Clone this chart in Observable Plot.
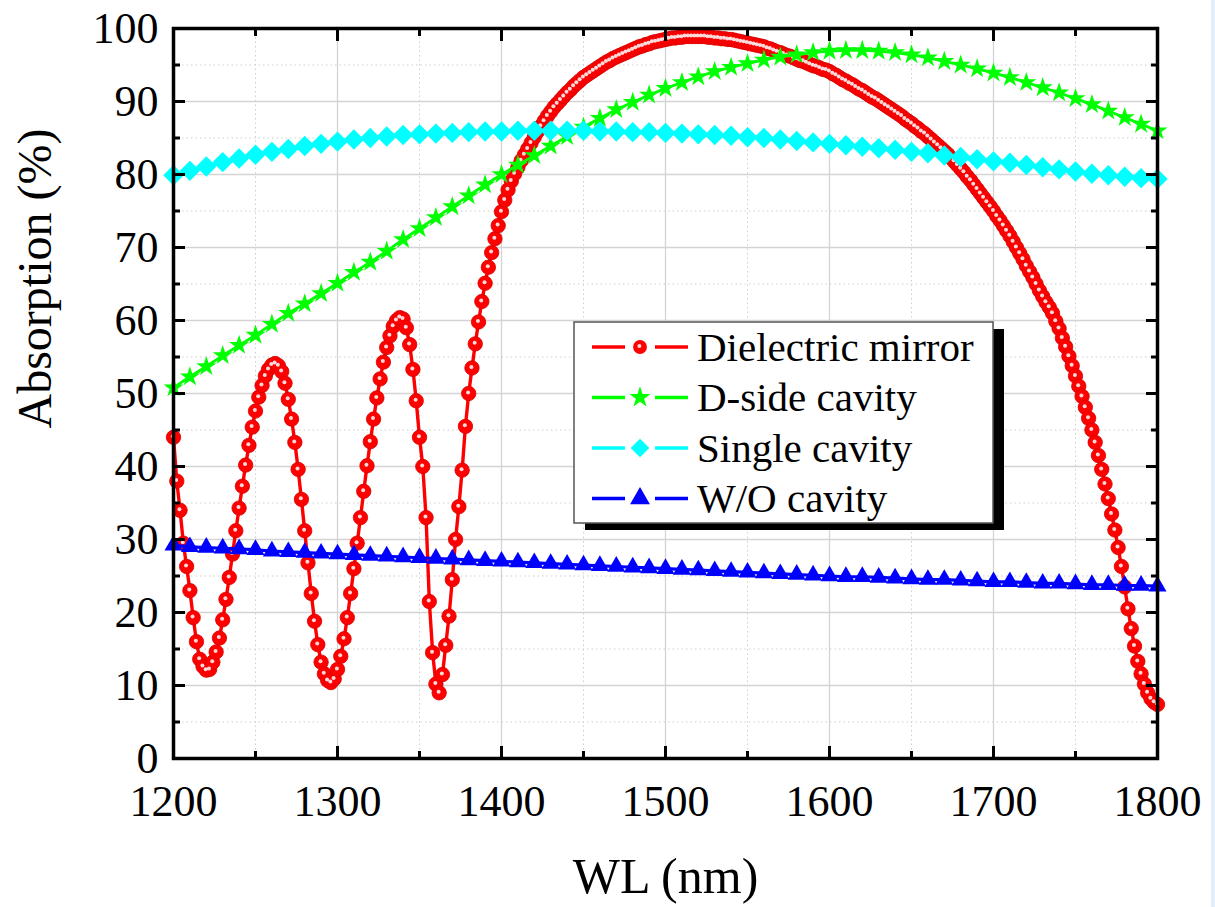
<!DOCTYPE html>
<html><head><meta charset="utf-8">
<script src="https://cdn.jsdelivr.net/npm/d3@7"></script>
<script src="https://cdn.jsdelivr.net/npm/@observablehq/plot@0.6"></script>
<style>
html,body{margin:0;padding:0;background:#fff;}
#chart{position:relative;width:1215px;height:907px;overflow:hidden;background:#fff;}
#strip{position:absolute;left:1211px;top:0;width:4px;height:907px;background:#e3eefa;}
</style></head><body><div id="chart"></div>
<script>
// ---- data ----
const seriesNames = ["Dielectric mirror", "D-side cavity", "Single cavity", "W/O cavity"];
const seriesColors = ["#ff0000", "#00ff00", "#00ffff", "#0000ff"];
const seriesSymbols = ["circle", "star", "diamond2", "triangle"];

// Dielectric mirror sampled every 2 nm from 1200 to 1800 nm
const mirrorWL = d3.range(1200, 1801, 2);
const mirrorAbs = [
  44.0, 38.0, 34.0, 29.5, 26.3, 23.0, 19.3, 16.0, 13.6, 12.6,
  12.1, 12.2, 13.2, 14.6, 16.5, 19.0, 21.8, 24.8, 28.0, 31.2,
  34.3, 37.3, 40.2, 42.9, 45.4, 47.6, 49.5, 51.1, 52.4, 53.3,
  53.9, 54.1, 53.8, 53.0, 51.4, 49.2, 46.5, 43.3, 39.6, 35.5,
  31.2, 26.8, 22.6, 18.8, 15.6, 13.2, 11.6, 10.7, 10.4, 10.9,
  12.2, 14.0, 16.4, 19.3, 22.6, 26.0, 29.5, 33.0, 36.6, 40.1,
  43.4, 46.5, 49.4, 52.0, 54.3, 56.3, 57.9, 59.2, 60.0, 60.4,
  60.2, 59.0, 56.7, 53.3, 49.0, 44.0, 40.0, 33.0, 21.5, 14.5,
  10.2, 9.0, 11.5, 15.5, 19.5, 24.5, 30.0, 34.5, 39.5, 45.5,
  50.0, 53.5, 56.8, 59.8, 62.6, 65.1, 67.3, 69.3, 71.2, 73.0,
  74.9, 76.5, 77.9, 79.1, 80.1, 81.0, 81.9, 82.7, 83.5, 84.3,
  85.1, 85.9, 86.6, 87.3, 88.0, 88.6, 89.2, 89.7, 90.2, 90.7,
  91.2, 91.6, 92.1, 92.5, 92.9, 93.3, 93.6, 93.9, 94.2, 94.5,
  94.8, 95.1, 95.4, 95.6, 95.9, 96.1, 96.3, 96.5, 96.7, 96.9,
  97.1, 97.3, 97.5, 97.6, 97.8, 97.9, 98.1, 98.2, 98.3, 98.4,
  98.5, 98.6, 98.7, 98.7, 98.8, 98.8, 98.9, 98.9, 98.9, 98.9,
  98.9, 98.9, 98.9, 98.8, 98.8, 98.7, 98.7, 98.6, 98.6, 98.5,
  98.5, 98.4, 98.3, 98.2, 98.1, 98.0, 97.9, 97.8, 97.7, 97.6,
  97.5, 97.3, 97.2, 97.0, 96.8, 96.7, 96.5, 96.3, 96.2, 96.0,
  95.8, 95.6, 95.5, 95.3, 95.1, 94.9, 94.8, 94.6, 94.4, 94.3,
  94.1, 93.8, 93.6, 93.3, 93.0, 92.8, 92.5, 92.3, 92.0, 91.7,
  91.5, 91.2, 90.9, 90.6, 90.4, 90.1, 89.8, 89.5, 89.2, 88.9,
  88.6, 88.3, 88.0, 87.6, 87.3, 87.0, 86.6, 86.3, 85.9, 85.6,
  85.2, 84.8, 84.4, 84.0, 83.6, 83.2, 82.8, 82.3, 81.8, 81.3,
  80.8, 80.3, 79.7, 79.2, 78.6, 78.0, 77.4, 76.8, 76.2, 75.6,
  75.0, 74.3, 73.7, 73.0, 72.3, 71.6, 70.8, 70.0, 69.2, 68.4,
  67.5, 66.7, 65.9, 65.0, 64.1, 63.3, 62.5, 61.8, 61.0, 59.9,
  58.9, 57.6, 56.4, 55.1, 53.8, 52.4, 51.0, 49.6, 48.1, 46.6,
  45.0, 43.3, 41.5, 39.6, 37.6, 35.6, 33.5, 31.3, 28.9, 26.3,
  23.5, 20.5, 17.8, 15.4, 13.3, 11.6, 10.2, 9.0, 8.2, 7.7,
  7.4
];

// cavity series sampled every 10 nm from 1200 to 1800 nm
const cavityWL = d3.range(1200, 1801, 10);
const dSideAbs = [
  50.8, 52.3, 53.7, 55.2, 56.6, 58.0, 59.5, 61.0, 62.3, 63.7,
  65.1, 66.6, 68.0, 69.5, 71.1, 72.6, 74.1, 75.6, 77.1, 78.6,
  80.0, 81.3, 82.6, 83.9, 85.2, 86.5, 87.7, 88.9, 89.9, 90.9,
  91.8, 92.6, 93.4, 94.1, 94.7, 95.2, 95.7, 96.1, 96.4, 96.7,
  96.9, 97.0, 97.0, 96.9, 96.7, 96.4, 96.0, 95.5, 95.0, 94.5,
  93.9, 93.3, 92.6, 91.9, 91.2, 90.4, 89.6, 88.7, 87.8, 86.9,
  86.0
];
const singleAbs = [
  79.9, 80.5, 81.1, 81.7, 82.2, 82.7, 83.1, 83.5, 83.9, 84.2,
  84.5, 84.8, 85.0, 85.2, 85.4, 85.5, 85.6, 85.7, 85.8, 85.9,
  85.9, 86.0, 86.0, 86.0, 86.0, 86.0, 85.9, 85.9, 85.8, 85.8,
  85.7, 85.6, 85.5, 85.4, 85.3, 85.1, 85.0, 84.8, 84.6, 84.4,
  84.2, 84.0, 83.8, 83.6, 83.4, 83.1, 82.9, 82.6, 82.4, 82.1,
  81.8, 81.6, 81.3, 81.0, 80.7, 80.4, 80.1, 79.9, 79.7, 79.5,
  79.4
];
const woAbs = [
  29.2, 29.0, 28.9, 28.8, 28.7, 28.6, 28.4, 28.3, 28.2, 28.1,
  28.0, 27.9, 27.8, 27.7, 27.6, 27.5, 27.4, 27.3, 27.2, 27.1,
  27.0, 26.9, 26.8, 26.7, 26.6, 26.5, 26.4, 26.3, 26.2, 26.1,
  26.0, 25.9, 25.8, 25.7, 25.6, 25.5, 25.4, 25.3, 25.2, 25.1,
  25.0, 24.9, 24.9, 24.8, 24.7, 24.6, 24.5, 24.5, 24.4, 24.3,
  24.2, 24.2, 24.1, 24.0, 24.0, 23.9, 23.8, 23.8, 23.7, 23.7,
  23.6
];

const xTicks = [1200, 1300, 1400, 1500, 1600, 1700, 1800];
const xMinorTicks = [1250, 1350, 1450, 1550, 1650, 1750];
const yTicks = [0, 10, 20, 30, 40, 50, 60, 70, 80, 90, 100];
const yMinorTicks = [5, 15, 25, 35, 45, 55, 65, 75, 85, 95];
const xInnerGrid = [1300, 1400, 1500, 1600, 1700];
const yInnerGrid = [10, 20, 30, 40, 50, 60, 70, 80, 90];

// ---- tables ----
const mirror = mirrorWL.map((wl, i) => ({wl, v: mirrorAbs[i]}));
const dSide = cavityWL.map((wl, i) => ({wl, v: dSideAbs[i]}));
const single = cavityWL.map((wl, i) => ({wl, v: singleAbs[i]}));
const wo = cavityWL.map((wl, i) => ({wl, v: woAbs[i]}));

const serif = "'Liberation Serif', 'Times New Roman', serif";

const plot = Plot.plot({
  width: 1215,
  height: 907,
  marginLeft: 173,
  marginRight: 58,
  marginTop: 28,
  marginBottom: 149,
  style: {background: "white", overflow: "visible"},
  x: {domain: [1200, 1800]},
  y: {domain: [0, 100]},
  marks: [
    Plot.gridX(xMinorTicks, {stroke: "#cfcfcf", strokeOpacity: 1, strokeWidth: 1, strokeDasharray: "1.5,3"}),
    Plot.gridY(yMinorTicks, {stroke: "#cfcfcf", strokeOpacity: 1, strokeWidth: 1, strokeDasharray: "1.5,3"}),
    Plot.gridX(xInnerGrid, {stroke: "#d4d4d4", strokeOpacity: 1, strokeWidth: 1.3}),
    Plot.gridY(yInnerGrid, {stroke: "#d4d4d4", strokeOpacity: 1, strokeWidth: 1.3}),

    Plot.line(mirror, {x: "wl", y: "v", stroke: seriesColors[0], strokeWidth: 3.4}),
    Plot.dot(mirror, {x: "wl", y: "v", r: 7.2, fill: seriesColors[0], stroke: "#d80000", strokeWidth: 0.8}),
    Plot.dot(mirror, {x: "wl", y: "v", r: 2, fill: "white", fillOpacity: 0.85, stroke: "none", dx: -0.6, dy: -1}),

    Plot.line(dSide, {x: "wl", y: "v", stroke: seriesColors[1], strokeWidth: 2.8}),
    Plot.dot(dSide, {x: "wl", y: "v", symbol: "star", r: 6.3, fill: seriesColors[1], stroke: "none"}),

    Plot.line(single, {x: "wl", y: "v", stroke: seriesColors[2], strokeWidth: 3.2}),
    Plot.dot(single, {x: "wl", y: "v", symbol: "diamond2", r: 9.2, fill: seriesColors[2], stroke: "none"}),

    Plot.line(wo, {x: "wl", y: "v", stroke: seriesColors[3], strokeWidth: 3.2}),
    Plot.dot(wo, {x: "wl", y: "v", symbol: "triangle", r: 6.7, fill: seriesColors[3], stroke: "none"}),

    // inward ticks on all four sides
    Plot.axisX(xTicks, {anchor: "bottom", tickSize: -12, strokeWidth: 3, fill: "none", label: null}),
    Plot.axisX(xMinorTicks, {anchor: "bottom", tickSize: -7, strokeWidth: 3, fill: "none", label: null}),
    Plot.axisX(xTicks, {anchor: "top", tickSize: -12, strokeWidth: 3, fill: "none", label: null}),
    Plot.axisX(xMinorTicks, {anchor: "top", tickSize: -7, strokeWidth: 3, fill: "none", label: null}),
    Plot.axisY(yTicks, {anchor: "left", tickSize: -12, strokeWidth: 3, fill: "none", label: null}),
    Plot.axisY(yMinorTicks, {anchor: "left", tickSize: -7, strokeWidth: 3, fill: "none", label: null}),
    Plot.axisY(yTicks, {anchor: "right", tickSize: -12, strokeWidth: 3, fill: "none", label: null}),
    Plot.axisY(yMinorTicks, {anchor: "right", tickSize: -7, strokeWidth: 3, fill: "none", label: null}),

    // tick labels
    Plot.axisX(xTicks, {anchor: "bottom", tickSize: 0, tickPadding: 26, fontSize: 44, fontFamily: serif,
      tickFormat: d => String(d), label: null}),
    Plot.axisY(yTicks, {anchor: "left", tickSize: 0, tickPadding: 15, fontSize: 44, fontFamily: serif,
      tickFormat: d => String(d), label: null}),

    Plot.frame({stroke: "black", strokeWidth: 3.5}),

    Plot.text(["WL (nm)"], {frameAnchor: "bottom", dy: 118, fontSize: 50, fontFamily: serif, lineAnchor: "middle"}),
    Plot.text(["Absorption (%)"], {frameAnchor: "left", rotate: -90, dx: -138, dy: 35, fontSize: 48,
      fontFamily: serif, lineAnchor: "middle"})
  ]
});

document.getElementById("chart").appendChild(plot);

// ---- legend (inside the plot area) ----
const svg = d3.select(plot);
const lg = svg.append("g");
const bx = 574, by = 322, bw = 419, bh = 201;
lg.append("rect").attr("x", bx + 11).attr("y", by + 7).attr("width", bw).attr("height", bh).attr("fill", "black");
lg.append("rect").attr("x", bx).attr("y", by).attr("width", bw).attr("height", bh)
  .attr("fill", "white").attr("stroke", "#555").attr("stroke-width", 1.5);
const legendSym = [d3.symbolCircle, d3.symbolStar, d3.symbolDiamond2, d3.symbolTriangle];
const legendSize = [150, 140, 220, 170];
seriesNames.forEach((name, i) => {
  const cy = 347 + i * 50.5;
  const c = seriesColors[i];
  lg.append("line").attr("x1", 592).attr("x2", 625).attr("y1", cy).attr("y2", cy)
    .attr("stroke", c).attr("stroke-width", 3.5);
  lg.append("line").attr("x1", 655).attr("x2", 688).attr("y1", cy).attr("y2", cy)
    .attr("stroke", c).attr("stroke-width", 3.5);
  lg.append("path").attr("transform", `translate(640,${cy})`)
    .attr("d", d3.symbol(legendSym[i], legendSize[i])()).attr("fill", c);
  if (i === 0) {
    lg.append("circle").attr("cx", 639.4).attr("cy", cy - 1).attr("r", 2).attr("fill", "white").attr("opacity", 0.85);
  }
  lg.append("text").attr("x", 697).attr("y", cy).attr("dy", "0.34em")
    .attr("font-family", serif).attr("font-size", 41).attr("text-anchor", "start")
    .attr("fill", "black").text(name);
});

const strip = document.createElement("div");
strip.id = "strip";
document.getElementById("chart").appendChild(strip);
</script>
</body></html>
